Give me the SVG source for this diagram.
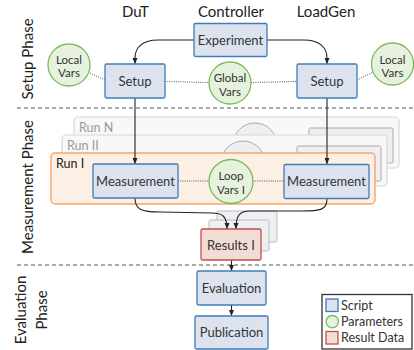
<svg xmlns="http://www.w3.org/2000/svg" width="414" height="350" viewBox="0 0 414 350">
<defs>
<marker id="arr" viewBox="0 0 6 6" refX="6" refY="3" markerWidth="6" markerHeight="6" markerUnits="userSpaceOnUse" orient="auto">
<path d="M0,0.5 L6,3 L0,5.5 z" fill="#222"/>
</marker>
<style>
text{font-family:Lato,"Liberation Sans",sans-serif;fill:#333}
.hdr{font-size:15px;fill:#222;text-anchor:middle}
.sec{font-size:15px;fill:#222;text-anchor:middle}
.box{fill:#dce3ef;stroke:#3f7cba;stroke-width:1.3}
.par{fill:#e6f2dd;stroke:#7cb95c;stroke-width:1.3}
.res{fill:#f3dcd5;stroke:#c0504d;stroke-width:1.3}
.bt{font-size:13px;text-anchor:middle}
.ct{font-size:11.5px;text-anchor:middle}
.con{fill:none;stroke:#222;stroke-width:1.1}
.dot{fill:none;stroke:#555;stroke-width:1;stroke-dasharray:1,1.2}
.dash{stroke:#555;stroke-width:1.1;stroke-dasharray:4,3}
.ghost{fill:#f8f8f8;stroke:#d8d8d8;stroke-width:1.2}
.gcirc{fill:#eeeff1;stroke:#aaa;stroke-width:1}
.gbox{fill:#eeeff2;stroke:#aaa;stroke-width:1}
.gres{fill:#eeeff2;stroke:#bbb;stroke-width:1}
.run{font-size:12.5px}
</style>
</defs>
<rect width="414" height="350" fill="#fff"/>

<g id="headers">
<text class="hdr" x="135.5" y="17">DuT</text>
<text class="hdr" x="231" y="17">Controller</text>
<text class="hdr" x="326" y="17">LoadGen</text>
</g>

<g id="phases">
<line class="dash" x1="17" y1="108" x2="414" y2="108"/>
<line class="dash" x1="17" y1="265" x2="414" y2="265"/>
<text class="sec" transform="translate(33,59) rotate(-90)">Setup Phase</text>
<text class="sec" transform="translate(33,187) rotate(-90)">Measurement Phase</text>
<text class="sec" transform="translate(26,310) rotate(-90)">Evaluation</text>
<text class="sec" transform="translate(47,310) rotate(-90)">Phase</text>
</g>

<g id="runN">
<rect class="ghost" x="74" y="117" width="325" height="51" rx="4"/>
<circle class="gcirc" cx="255" cy="145" r="22"/>
<rect class="gbox" x="309" y="128" width="84" height="35" rx="1.5"/>
<text class="run" x="79" y="131.5" style="fill:#999">Run N</text>
</g>
<g id="runII">
<rect class="ghost" x="62" y="135" width="325" height="51" rx="4"/>
<circle class="gcirc" cx="243" cy="163" r="22"/>
<rect class="gbox" x="297" y="146" width="84" height="35" rx="1.5"/>
<text class="run" x="67" y="149.5" style="fill:#999">Run II</text>
</g>
<g id="runI">
<rect x="51" y="153" width="324" height="51" rx="4" fill="#fdefe3" stroke="#f6a766" stroke-width="1.4"/>
<text class="run" x="56" y="167.5" style="fill:#222">Run I</text>
</g>

<g id="results-ghosts">
<rect class="gres" x="217" y="211" width="60" height="31" rx="1.5"/>
<rect class="gres" x="209" y="220" width="60" height="31" rx="1.5"/>
</g>

<g id="connectors">
<path class="con" d="M194,40 L158,40 C143,40 135,47 135,58 L135,64" marker-end="url(#arr)"/>
<path class="con" d="M267,40 L304,40 C319,40 327,47 327,58 L327,64" marker-end="url(#arr)"/>
<path class="con" d="M135,98 L135,164" marker-end="url(#arr)"/>
<path class="con" d="M327,98 L327,164" marker-end="url(#arr)"/>
<path class="con" d="M135,198 C135,210 142,212 160,212 L212,213 C223,213 227,217 227,229" marker-end="url(#arr)"/>
<path class="con" d="M327,199 C327,210 320,211 302,211 L250,211 C239,211 236,216 236,229" marker-end="url(#arr)"/>
<path class="con" d="M231.5,260 L231.5,271" marker-end="url(#arr)"/>
<path class="con" d="M231.5,305 L231.5,316" marker-end="url(#arr)"/>
<path class="dot" d="M90,73 L105,80"/>
<path class="dot" d="M165,81.5 L209,82.5"/>
<path class="dot" d="M251,82.5 L297,81.5"/>
<path class="dot" d="M357,80 L373,72"/>
<path class="dot" d="M178,181 L209,181"/>
<path class="dot" d="M253,181 L284,181"/>
</g>

<g id="experiment">
<rect class="box" x="194" y="23.5" width="73" height="33" rx="1.5"/>
<text class="bt" x="230.5" y="44.5">Experiment</text>
</g>
<g id="setup-dut">
<rect class="box" x="105" y="64" width="60" height="34" rx="1.5"/>
<text class="bt" x="135" y="85.5">Setup</text>
</g>
<g id="setup-loadgen">
<rect class="box" x="297" y="64" width="60" height="34" rx="1.5"/>
<text class="bt" x="327" y="85.5">Setup</text>
</g>
<g id="localvars-dut">
<circle class="par" cx="69" cy="65" r="21"/>
<text class="ct" x="69" y="64">Local</text>
<text class="ct" x="69" y="77">Vars</text>
</g>
<g id="globalvars">
<circle class="par" cx="230" cy="83" r="21"/>
<text class="ct" x="230" y="82">Global</text>
<text class="ct" x="230" y="95.5">Vars</text>
</g>
<g id="localvars-loadgen">
<circle class="par" cx="392.5" cy="64" r="21"/>
<text class="ct" x="392.5" y="63.5">Local</text>
<text class="ct" x="392.5" y="77">Vars</text>
</g>
<g id="measurement-dut">
<rect class="box" x="93" y="164" width="85" height="34" rx="1.5"/>
<text class="bt" x="135.5" y="185.5">Measurement</text>
</g>
<g id="loopvars">
<circle class="par" cx="231" cy="181.5" r="22"/>
<text class="ct" x="231" y="180">Loop</text>
<text class="ct" x="231" y="194">Vars I</text>
</g>
<g id="measurement-loadgen">
<rect class="box" x="284" y="164.5" width="85" height="34" rx="1.5"/>
<text class="bt" x="326.5" y="186">Measurement</text>
</g>
<g id="results">
<rect class="res" x="201" y="229" width="60" height="31" rx="1.5"/>
<text class="bt" x="231" y="249.5">Results I</text>
</g>
<g id="evaluation">
<rect class="box" x="197" y="271" width="69" height="34" rx="1.5"/>
<text class="bt" x="231.5" y="292.5">Evaluation</text>
</g>
<g id="publication">
<rect class="box" x="195" y="316" width="73" height="33" rx="1.5"/>
<text class="bt" x="231.5" y="337">Publication</text>
</g>

<g id="legend">
<rect x="322" y="294.5" width="90" height="54.5" fill="#fff" stroke="#333" stroke-width="1.3"/>
<rect class="box" x="326" y="299" width="12" height="12.5"/>
<text x="341" y="310" style="font-size:12.5px">Script</text>
<circle class="par" cx="332.3" cy="321.7" r="6.2"/>
<text x="341" y="325.5" style="font-size:12.5px">Parameters</text>
<rect class="res" x="326" y="331.5" width="12" height="12.5"/>
<text x="341" y="342" style="font-size:12.5px">Result Data</text>
</g>
</svg>
